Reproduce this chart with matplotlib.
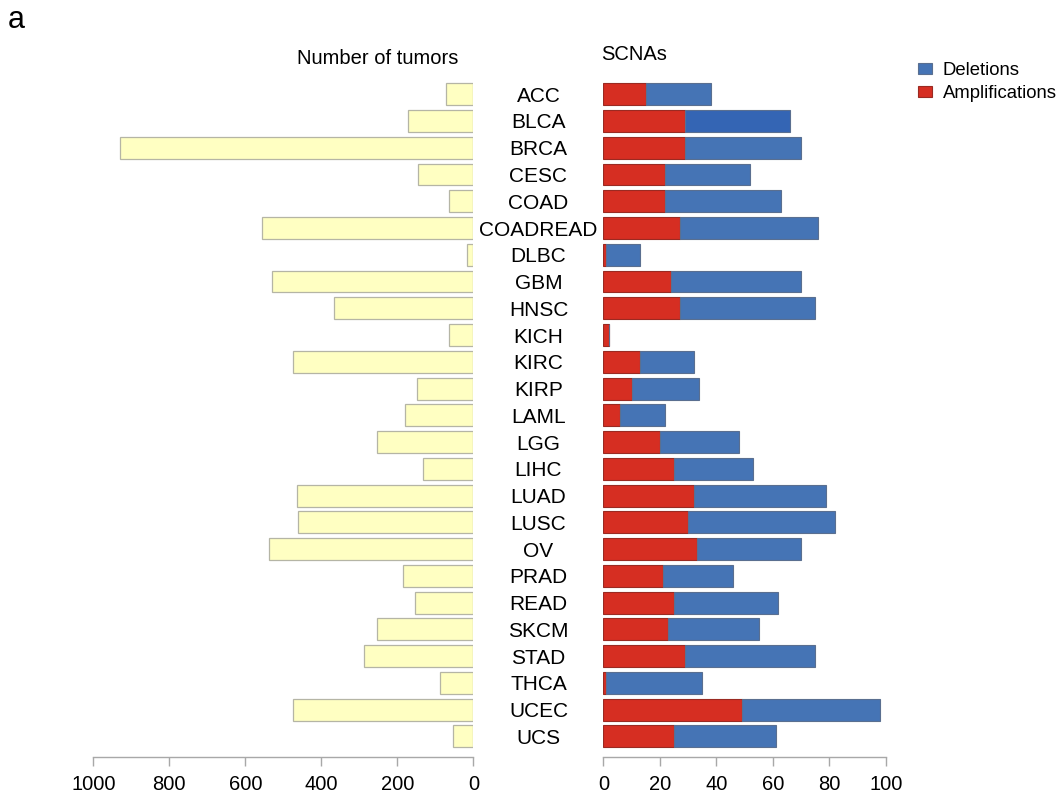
import matplotlib.pyplot as plt
from matplotlib.transforms import blended_transform_factory

plt.rcParams['font.family'] = ['Liberation Sans', 'DejaVu Sans']

# --- data ---
cancer_types = ['ACC', 'BLCA', 'BRCA', 'CESC', 'COAD', 'COADREAD', 'DLBC', 'GBM',
                'HNSC', 'KICH', 'KIRC', 'KIRP', 'LAML', 'LGG', 'LIHC', 'LUAD',
                'LUSC', 'OV', 'PRAD', 'READ', 'SKCM', 'STAD', 'THCA', 'UCEC', 'UCS']
n_tumors = [73, 171, 930, 146, 64, 555, 17, 529, 366, 63, 475, 149, 180, 254,
            132, 465, 462, 538, 186, 153, 253, 288, 89, 475, 53]
amplifications = [15, 29, 29, 22, 22, 27, 1, 24, 27, 2, 13, 10, 6, 20, 25, 32,
                  30, 33, 21, 25, 23, 29, 1, 49, 25]
deletions = [23, 37, 41, 30, 41, 49, 12, 46, 48, 0, 19, 24, 16, 28, 28, 47,
             52, 37, 25, 37, 32, 46, 34, 49, 36]
left_ticks = [1000, 800, 600, 400, 200, 0]
right_ticks = [0, 20, 40, 60, 80, 100]
highlighted = 'BLCA'

RED = '#d62e22'
BLUE = '#4574b5'
BLUE_DARK = '#3465b4'
YELLOW = '#ffffc2'
GREY = '#a8a8a8'

fig = plt.figure(figsize=(10.62, 7.95), dpi=100)
ax_l = fig.add_axes([0.0879, 0.0482, 0.3578, 0.8501])
ax_r = fig.add_axes([0.5681, 0.0482, 0.2659, 0.8501])

rows = list(range(len(cancer_types)))
bar_h = 0.82

# left panel: number of tumors (bars grow leftwards)
ax_l.barh(rows, n_tumors, height=bar_h, color=YELLOW, edgecolor='#b5b5a5', linewidth=0.9)
ax_l.set_xlim(1000, 0)
ax_l.set_xticks(left_ticks)

# right panel: stacked SCNAs
del_colors = [BLUE_DARK if c == highlighted else BLUE for c in cancer_types]
amp_bars = ax_r.barh(rows, amplifications, height=bar_h, color=RED,
                     edgecolor='#9a2a22', linewidth=0.8, label='Amplifications')
del_bars = ax_r.barh(rows, deletions, left=amplifications, height=bar_h,
                     color=del_colors, edgecolor='#5a6f90', linewidth=0.8, label='Deletions')
ax_r.set_xlim(0, 100)
ax_r.set_xticks(right_ticks)

for ax in (ax_l, ax_r):
    ax.set_ylim(24.76, -0.5)
    ax.set_yticks([])
    for side in ('top', 'left', 'right'):
        ax.spines[side].set_visible(False)
    ax.spines['bottom'].set_color(GREY)
    ax.spines['bottom'].set_linewidth(1.0)
    ax.tick_params(axis='x', colors=GREY, labelcolor='black', labelsize=14.5,
                   length=6.5, width=1.0, pad=6.5)

# category names centred between the panels
trans = blended_transform_factory(fig.transFigure, ax_r.transData)
for i, name in enumerate(cancer_types):
    fig.text(538.5 / 1062, i, name, transform=trans, ha='center',
             va='center_baseline', fontsize=15)

fig.text(458 / 1062, 1 - 58 / 795, 'Number of tumors', ha='right', va='center', fontsize=14.5)
fig.text(601 / 1062, 1 - 55 / 795, 'SCNAs', ha='left', va='center', fontsize=14.5)
fig.text(8 / 1062, 1 - 20 / 795, 'a', ha='left', va='center', fontsize=22)

fig.legend([del_bars[0], amp_bars[0]], ['Deletions', 'Amplifications'],
           loc='upper left', bbox_to_anchor=(918 / 1062, 1 - 62 / 795),
           frameon=False, fontsize=13.3, handlelength=0.78, handleheight=0.55,
           handletextpad=0.55, labelspacing=0.33, borderpad=0, borderaxespad=0)

fig.savefig('out.png', dpi=100)
